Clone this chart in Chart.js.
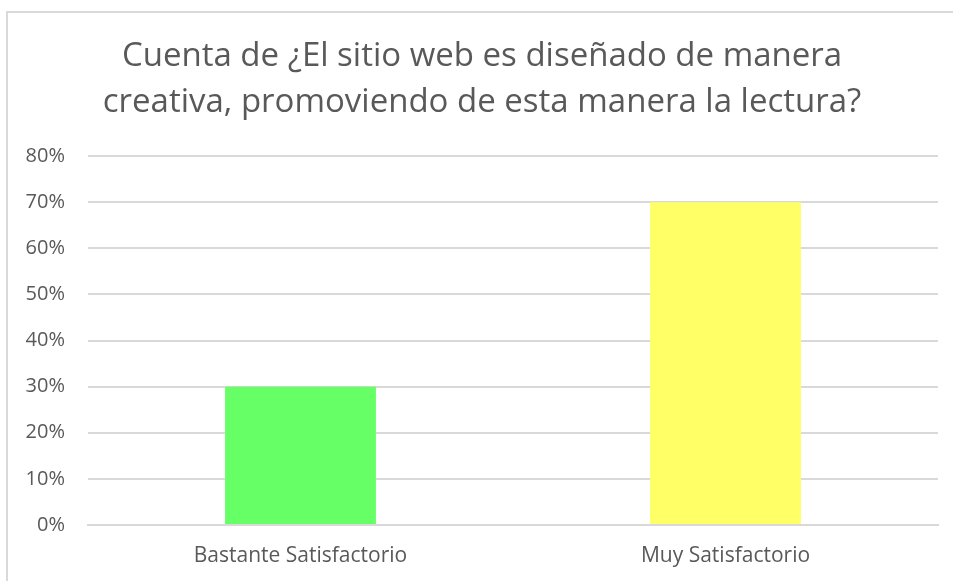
<!DOCTYPE html>
<html>
<head>
<meta charset="utf-8">
<script src="https://cdn.jsdelivr.net/npm/chart.js@4/dist/chart.umd.min.js"></script>
<style>
  html, body { margin: 0; padding: 0; background: #fff; overflow: hidden; }
  #frame { position: absolute; left: 6px; top: 11px; width: 1000px; height: 700px; border: 2px solid #d9d9d9; box-sizing: border-box; }
  #chart { position: absolute; left: 0; top: 0; }
</style>
</head>
<body>
<div id="frame"></div>
<canvas id="chart" width="953" height="581"></canvas>
<script>
const categories = ["Bastante Satisfactorio", "Muy Satisfactorio"];
const values = [0.30, 0.70];
const barColors = ["#66ff66", "#ffff66"];
const titleLines = ["Cuenta de ¿El sitio web es diseñado de manera", "creativa, promoviendo de esta manera la lectura?"];

const textColor = "#595959";
const fontFamily = "'Open Sans', sans-serif";

const ctx = document.getElementById("chart").getContext("2d");
const chart = new Chart(ctx, {
  type: "bar",
  data: {
    labels: categories,
    datasets: [
      {
        label: "Cuenta",
        data: values,
        backgroundColor: barColors,
        borderWidth: 0,
        categoryPercentage: 1,
        barPercentage: 0.355,
      },
    ],
  },
  options: {
    responsive: false,
    animation: false,
    devicePixelRatio: 1,
    layout: { padding: { left: 26, right: 15, top: 0, bottom: 0 } },
    plugins: {
      legend: { display: false },
      tooltip: { enabled: false },
      title: {
        display: true,
        text: titleLines,
        color: textColor,
        font: { family: fontFamily, size: 33, weight: "normal", lineHeight: 1.394 },
        padding: { top: 34, bottom: 30 },
      },
    },
    scales: {
      y: {
        min: 0,
        max: 0.8,
        ticks: {
          stepSize: 0.1,
          color: textColor,
          padding: 23,
          font: { family: fontFamily, size: 20 },
          callback: (v) => Math.round(v * 100) + "%",
        },
        grid: { color: "#d9d9d9", lineWidth: 2, drawTicks: false },
        border: { display: false },
        afterFit: (scale) => { scale.width = 62; },
      },
      x: {
        ticks: {
          color: textColor,
          padding: 18,
          font: { family: fontFamily, size: 21 },
        },
        grid: { display: false, drawTicks: false },
        border: { color: "#d9d9d9", width: 2 },
        afterFit: (scale) => { scale.height = 56; },
      },
    },
  },
});
</script>
</body>
</html>
